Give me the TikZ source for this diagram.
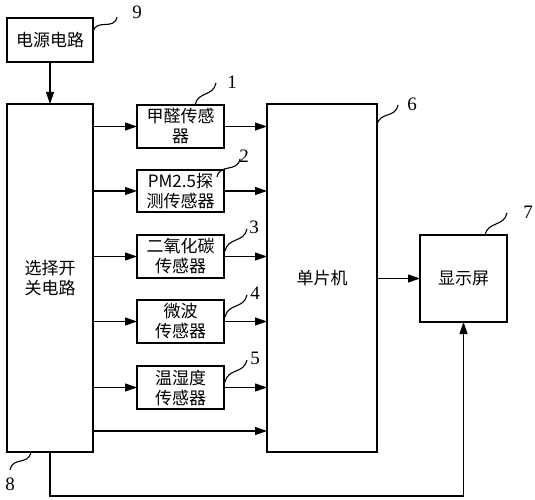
\documentclass[tikz,border=0pt]{standalone}
\usepackage{fontspec}
\setmainfont{Liberation Serif}
\newfontfamily\cjk{Noto Sans CJK SC}
\usetikzlibrary{arrows.meta,calc}
\tikzset{
  box/.style={draw, line width=1.2bp, inner sep=0pt, outer sep=0pt, align=center,
    font=\cjk\fontsize{17bp}{20bp}\selectfont},
  arr/.style={line width=1.1bp, -{Triangle[length=12bp,width=8bp]}},
  sq/.style={line width=1.1bp},
  num/.style={font=\fontsize{19bp}{20bp}\selectfont, inner sep=0pt}
}
\begin{document}
\begin{tikzpicture}[x=1bp,y=-1bp]
\useasboundingbox (0,0) rectangle (535,500);
% boxes
\node[box, minimum width=86bp, minimum height=44bp] (pw) at (50,40) {电源电路};
\node[box, minimum width=86bp, minimum height=348bp] (sw) at (50,278) {选择开\\关电路};
\node[box, minimum width=87bp, minimum height=43bp] (s1) at (180.5,126.5) {甲醛传感\\器};
\node[box, minimum width=87bp, minimum height=42bp] (s2) at (180.5,191) {PM2.5探\\测传感器};
\node[box, minimum width=87bp, minimum height=43bp] (s3) at (180.5,256.5) {二氧化碳\\传感器};
\node[box, minimum width=87bp, minimum height=43bp] (s4) at (180.5,321.5) {微波\\传感器};
\node[box, minimum width=87bp, minimum height=43bp] (s5) at (180.5,387.5) {温湿度\\传感器};
\node[box, minimum width=110bp, minimum height=348bp] (mcu) at (322,278) {单片机};
\node[box, minimum width=87bp, minimum height=87bp] (disp) at (463.5,278.5) {显示屏};
\coordinate (bl) at (0,431);
% arrows
\draw[arr] (pw.south) -- (sw.north);
\foreach \s in {s1,s2,s3,s4,s5}{
  \draw[arr] (sw.east |- \s.west) -- (\s.west);
  \draw[arr] (\s.east) -- (\s.east -| mcu.west);
}
\draw[arr] (sw.east |- bl) -- (mcu.west |- bl);
\draw[arr] (mcu.east |- disp.west) -- (disp.west);
\draw[arr] (sw.south) -- ++(0,44) -| (disp.south);
% labels
\node[num] (n9) at (137,12) {9};
\node[num] (n1) at (232,82) {1};
\node[num] (n2) at (244,156) {2};
\node[num] (n3) at (254,227) {3};
\node[num] (n4) at (255,293) {4};
\node[num] (n5) at (255,358) {5};
\node[num] (n6) at (412,104) {6};
\node[num] (n7) at (528,212) {7};
\node[num] (n8) at (10,484) {8};
% squiggles
\coordinate (a9) at (93,32); \coordinate (b9) at (117,17);
\coordinate (a1) at (195,105); \coordinate (b1) at (216,83);
\coordinate (a2) at (217,177); \coordinate (b2) at (240,159);
\coordinate (a3) at (225,251); \coordinate (b3) at (247,229);
\coordinate (a4) at (225,317); \coordinate (b4) at (247,295);
\coordinate (a5) at (225,382); \coordinate (b5) at (247,360);
\coordinate (a6) at (377,125); \coordinate (b6) at (398,105);
\coordinate (a7) at (485,235); \coordinate (b7) at (507,213);
\foreach \k in {9,1,2,3,4,5,6,7}{
  \draw[sq] (a\k) .. controls ($(a\k)+(3,-14)$) and ($(b\k)+(-3,14)$) .. (b\k);
}
\coordinate (a8) at (31,452); \coordinate (b8) at (10,470);
\draw[sq] (a8) .. controls ($(a8)+(-3,14)$) and ($(b8)+(3,-14)$) .. (b8);
\end{tikzpicture}
\end{document}
